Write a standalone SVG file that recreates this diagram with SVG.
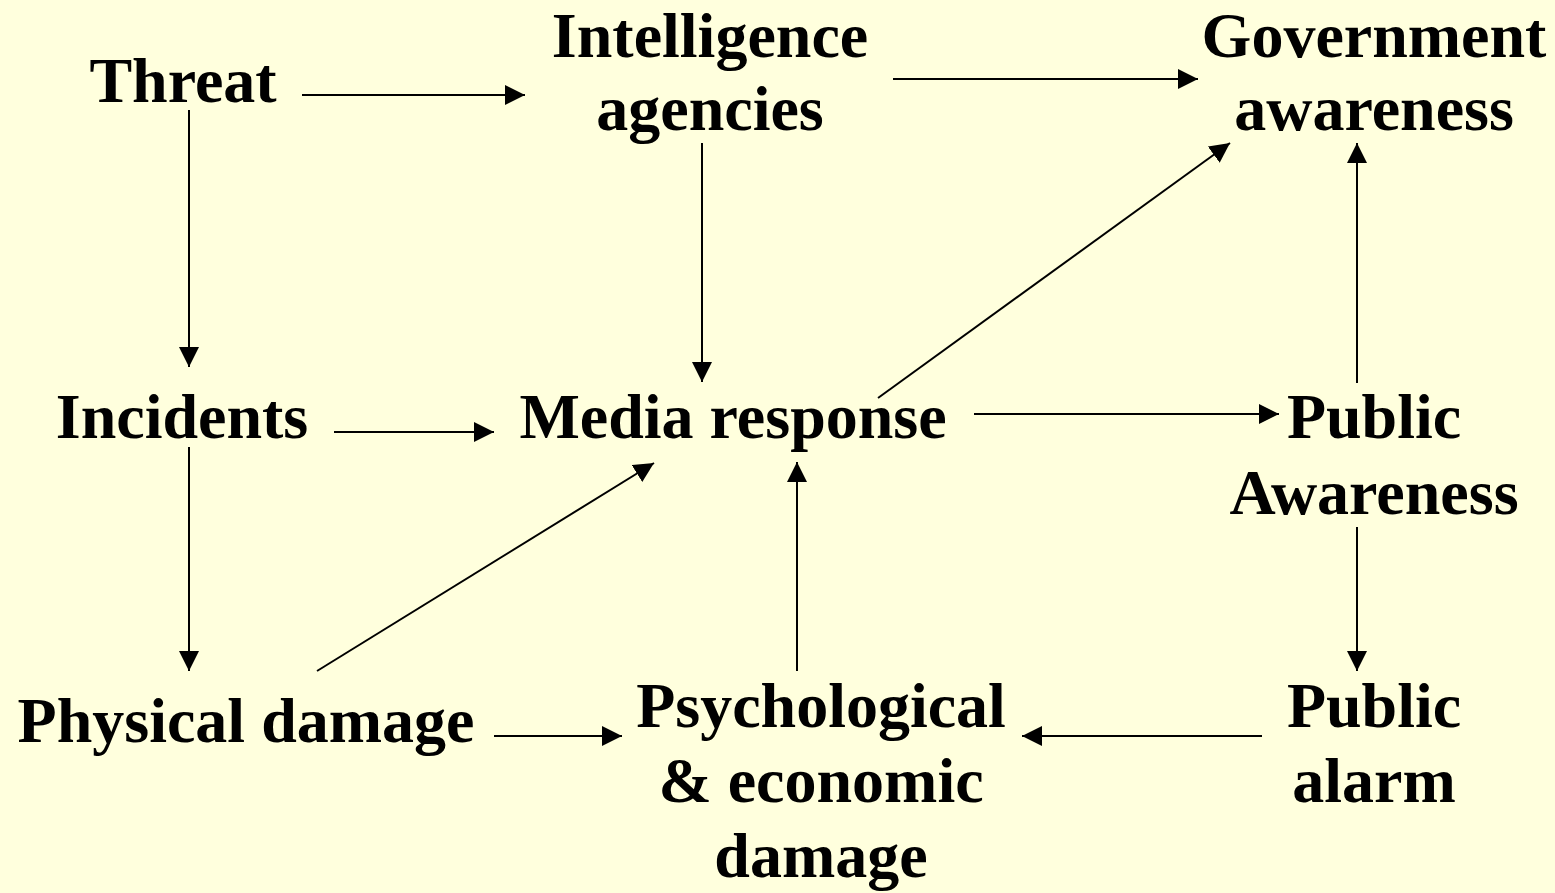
<svg xmlns="http://www.w3.org/2000/svg" width="1555" height="893" viewBox="0 0 1555 893">
<style>
text{font-family:"Liberation Serif","Times New Roman",serif;font-weight:bold;font-size:64px;fill:#000;text-anchor:middle}
.c line{stroke:#000;stroke-width:2;marker-end:url(#ah)}
</style>
<defs>
<marker id="ah" viewBox="0 0 20 20" refX="20" refY="10" markerWidth="20" markerHeight="20" markerUnits="userSpaceOnUse" orient="auto">
<path d="M0,0L20,10L0,20Z" fill="#000"/>
</marker>
</defs>
<rect width="1555" height="893" fill="#FFFFDD"/>
<g id="threat"><text x="183" y="102">Threat</text></g>
<g id="intelligence"><text x="710" y="57">Intelligence</text><text x="710" y="130">agencies</text></g>
<g id="government"><text x="1374" y="57">Government</text><text x="1374" y="130">awareness</text></g>
<g id="incidents"><text x="182" y="438">Incidents</text></g>
<g id="media"><text x="733" y="438">Media response</text></g>
<g id="publicawareness"><text x="1374" y="438">Public</text><text x="1374" y="514">Awareness</text></g>
<g id="physical"><text x="246" y="742">Physical damage</text></g>
<g id="psych"><text x="821" y="727">Psychological</text><text x="821" y="802">&amp; economic</text><text x="821" y="877">damage</text></g>
<g id="alarm"><text x="1374" y="727">Public</text><text x="1374" y="802">alarm</text></g>
<g class="c" id="connectors">
<line x1="302" y1="95" x2="525" y2="95"/>
<line x1="189" y1="110" x2="189" y2="367"/>
<line x1="893" y1="79" x2="1198" y2="79"/>
<line x1="702" y1="143" x2="702" y2="382"/>
<line x1="878" y1="398" x2="1230" y2="143"/>
<line x1="334" y1="432" x2="494" y2="432"/>
<line x1="974" y1="414" x2="1279" y2="414"/>
<line x1="1357" y1="383" x2="1357" y2="143"/>
<line x1="1357" y1="527" x2="1357" y2="671"/>
<line x1="189" y1="447" x2="189" y2="671"/>
<line x1="317" y1="671" x2="654" y2="463"/>
<line x1="797" y1="671" x2="797" y2="462"/>
<line x1="494" y1="736" x2="622" y2="736"/>
<line x1="1262" y1="736" x2="1022" y2="736"/>
</g>
</svg>
